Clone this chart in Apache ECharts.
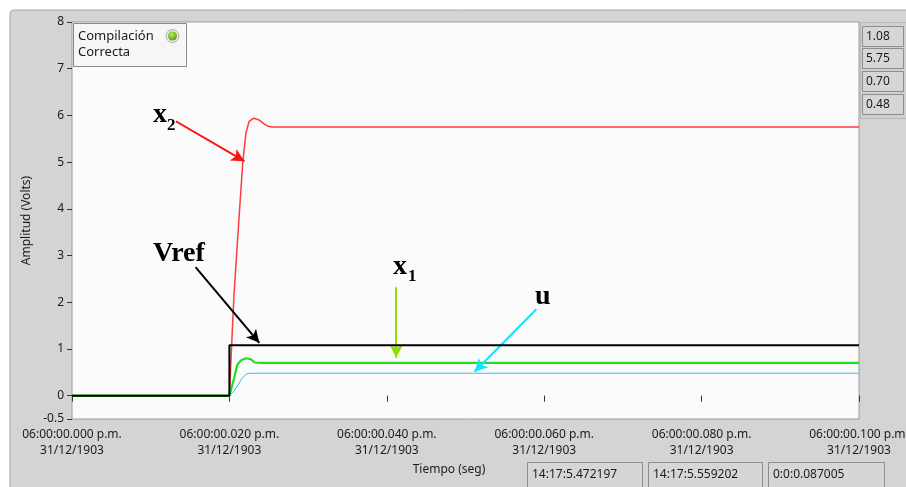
<!DOCTYPE html>
<html><head><meta charset="utf-8">
<script src="https://cdn.jsdelivr.net/npm/echarts@6/dist/echarts.min.js"></script>
<style>html,body{margin:0;padding:0;background:#fff}#c{width:906px;height:487px}</style>
</head><body><div id="c"></div>
<script>
// ---- data (time in ms, amplitude in volts) ----
const xTicks = [0, 20, 40, 60, 80, 100];
const xTickLabels = [
  '06:00:00.000 p.m.\n31/12/1903', '06:00:00.020 p.m.\n31/12/1903',
  '06:00:00.040 p.m.\n31/12/1903', '06:00:00.060 p.m.\n31/12/1903',
  '06:00:00.080 p.m.\n31/12/1903', '06:00:00.100 p.m.\n31/12/1903'
];
const yTicks = [-0.5, 0, 1, 2, 3, 4, 5, 6, 7, 8];

const vref = [[0, 0], [20, 0], [20, 1.08], [100, 1.08]];
const x2 = [[0, 0], [20, 0], [20.1, 0], [20.4, 1.5], [20.6, 2.2], [21.2, 3.75], [21.7, 5.0], [22.1, 5.62],
            [22.5, 5.87], [23.1, 5.94], [23.8, 5.9], [24.4, 5.82], [24.9, 5.77], [25.5, 5.75], [100, 5.75]];
const x1 = [[0, 0], [20, 0], [20.1, 0], [20.6, 0.37], [21.0, 0.66], [21.5, 0.76], [22.1, 0.80], [22.7, 0.78],
            [23.2, 0.71], [24.0, 0.70], [100, 0.70]];
const u = [[0, 0], [20, 0], [20.1, 0], [20.6, 0.1], [21.25, 0.27], [21.5, 0.35], [22.1, 0.46], [22.6, 0.48], [100, 0.48]];

const indicatorValues = ['1.08', '5.75', '0.70', '0.48'];
const cursorValues = ['14:17:5.472197', '14:17:5.559202', '0:0:0.087005'];

// annotation arrows [from, to] in data coords
const arrowX2 = [[13.2, 5.875], [21.9, 5.02]];
const arrowVref = [[15.7, 2.75], [23.8, 1.13]];
const arrowX1 = [[41.2, 2.32], [41.2, 0.81]];
const arrowU = [[59.0, 1.85], [51.15, 0.51]];

const F = '"Noto Sans", "Liberation Sans", sans-serif';
const SERIF = '"Liberation Serif", "DejaVu Serif", serif';
const TXT = '#1b1b1b';

function arrow(pair, color) {
  return [{ coord: pair[0], lineStyle: { color: color, width: 2, type: 'solid' } }, { coord: pair[1] }];
}

const chart = echarts.init(document.getElementById('c'), null, { renderer: 'canvas' });

const graphics = [
  { type: 'rect', z: -100, shape: { x: 10, y: 10, width: 905, height: 485, r: 4 },
    style: { fill: '#d4d4d4', stroke: '#a6a6a6', lineWidth: 1 } },
  // status box
  { type: 'rect', z: 100, shape: { x: 73.5, y: 23.5, width: 113, height: 43 },
    style: { fill: '#f6f6f6', stroke: '#8a8a8a', lineWidth: 1 } },
  { type: 'text', z: 101, style: { text: 'Compilación', x: 78, y: 36, font: '13px ' + F, fill: TXT, verticalAlign: 'middle', textVerticalAlign: 'middle' } },
  { type: 'text', z: 101, style: { text: 'Correcta', x: 78, y: 52, font: '13px ' + F, fill: TXT, verticalAlign: 'middle', textVerticalAlign: 'middle' } },
  { type: 'circle', z: 101, shape: { cx: 172.5, cy: 36, r: 6.5 }, style: { fill: '#e8e8e8', stroke: '#b0b0b0', lineWidth: 1 } },
  { type: 'circle', z: 102, shape: { cx: 172.5, cy: 36, r: 4.5 },
    style: { fill: new echarts.graphic.RadialGradient(0.4, 0.35, 0.7, [{ offset: 0, color: '#b6f05a' }, { offset: 1, color: '#4f9a06' }]) } },
  // annotation labels
  { type: 'text', z: 110, style: { text: 'x', x: 153, y: 114.5, font: 'bold 28px ' + SERIF, fill: '#000', verticalAlign: 'middle', textVerticalAlign: 'middle' } },
  { type: 'text', z: 110, style: { text: '2', x: 167, y: 126, font: 'bold 17px ' + SERIF, fill: '#000', verticalAlign: 'middle', textVerticalAlign: 'middle' } },
  { type: 'text', z: 110, style: { text: 'Vref', x: 153, y: 253.6, font: 'bold 28px ' + SERIF, fill: '#000', verticalAlign: 'middle', textVerticalAlign: 'middle' } },
  { type: 'text', z: 110, style: { text: 'x', x: 393, y: 267, font: 'bold 28px ' + SERIF, fill: '#000', verticalAlign: 'middle', textVerticalAlign: 'middle' } },
  { type: 'text', z: 110, style: { text: '1', x: 408, y: 277, font: 'bold 17px ' + SERIF, fill: '#000', verticalAlign: 'middle', textVerticalAlign: 'middle' } },
  { type: 'text', z: 110, style: { text: 'u', x: 535, y: 296.6, font: 'bold 28px ' + SERIF, fill: '#000', verticalAlign: 'middle', textVerticalAlign: 'middle' } },
  // x axis name
  { type: 'text', z: 50, style: { text: 'Tiempo (seg)', x: 449, y: 470, font: '12px ' + F, fill: TXT, align: 'center', textAlign: 'center', verticalAlign: 'middle', textVerticalAlign: 'middle' } },
  // right column border
  { type: 'rect', z: 40, shape: { x: 860.5, y: 22.5, width: 50, height: 96 }, style: { fill: '#d0d0d0', stroke: '#b8b8b8', lineWidth: 1 } }
];
const boxYs = [26, 48, 71, 94];
indicatorValues.forEach(function (v, i) {
  graphics.push({ type: 'rect', z: 41, shape: { x: 862.5, y: boxYs[i] + 0.5, width: 41, height: 20 },
    style: { fill: '#d6d6d6', stroke: '#8e8e8e', lineWidth: 1 } });
  graphics.push({ type: 'text', z: 42, style: { text: v, x: 866, y: boxYs[i] + 10.5, font: '12px ' + F, fill: TXT, verticalAlign: 'middle', textVerticalAlign: 'middle' } });
});
const cBoxX = [527, 648, 768], cBoxW = [115, 114, 116];
cursorValues.forEach(function (v, i) {
  graphics.push({ type: 'rect', z: 41, shape: { x: cBoxX[i] + 0.5, y: 462.5, width: cBoxW[i], height: 30 },
    style: { fill: '#d6d6d6', stroke: '#8e8e8e', lineWidth: 1 } });
  graphics.push({ type: 'text', z: 42, style: { text: v, x: cBoxX[i] + 5, y: 475, font: '12px ' + F, fill: TXT, verticalAlign: 'middle', textVerticalAlign: 'middle' } });
});

const option = {
  animation: false,
  backgroundColor: '#ffffff',
  grid: { left: 72, right: 47, top: 22, bottom: 68, show: true, backgroundColor: '#fbfbfb', borderColor: '#9c9c9c', borderWidth: 1,
          containLabel: false, outerBoundsMode: 'none' },
  xAxis: {
    type: 'value', min: 0, max: 100, interval: 20,
    axisLine: { show: false }, splitLine: { show: false },
    axisTick: { show: true, length: 6, lineStyle: { color: '#333' } },
    axisLabel: {
      formatter: function (v) { const i = xTicks.indexOf(v); return i >= 0 ? xTickLabels[i] : ''; },
      color: TXT, fontSize: 12, fontFamily: F, lineHeight: 16, margin: 8,
      showMinLabel: true, showMaxLabel: true, hideOverlap: false
    }
  },
  yAxis: {
    type: 'value', min: -0.5, max: 8, interval: 0.5,
    axisLine: { show: false }, splitLine: { show: false },
    axisTick: { show: true, length: 5, customValues: yTicks, lineStyle: { color: '#333' } },
    axisLabel: { customValues: yTicks, formatter: function (v) { return String(v); }, color: TXT, fontSize: 12, fontFamily: F, margin: 8 },
    name: 'Amplitud (Volts)', nameLocation: 'middle', nameGap: 37, nameRotate: 90,
    nameTextStyle: { color: TXT, fontSize: 12, fontFamily: F }
  },
  graphic: { elements: graphics },
  series: [
    { name: 'x2', type: 'line', data: x2, symbol: 'none', lineStyle: { color: '#ff3b3b', width: 1.5 }, z: 3 },
    { name: 'u', type: 'line', data: u, symbol: 'none', lineStyle: { color: '#38bdfa', width: 1 }, z: 3 },
    { name: 'x1', type: 'line', data: x1, symbol: 'none', lineStyle: { color: '#1ee01e', width: 2.2 }, z: 4 },
    { name: 'Vref', type: 'line', data: vref, symbol: 'none', lineStyle: { color: '#000000', width: 2 }, z: 5,
      markLine: {
        silent: true, symbol: ['none', 'arrow'], symbolSize: [10, 13], animation: false,
        label: { show: false },
        data: [arrow(arrowX2, '#ff1010'), arrow(arrowVref, '#000000'), arrow(arrowX1, '#8ee000'), arrow(arrowU, '#10e4ff')]
      }
    }
  ]
};
chart.setOption(option);
</script>
</body></html>
